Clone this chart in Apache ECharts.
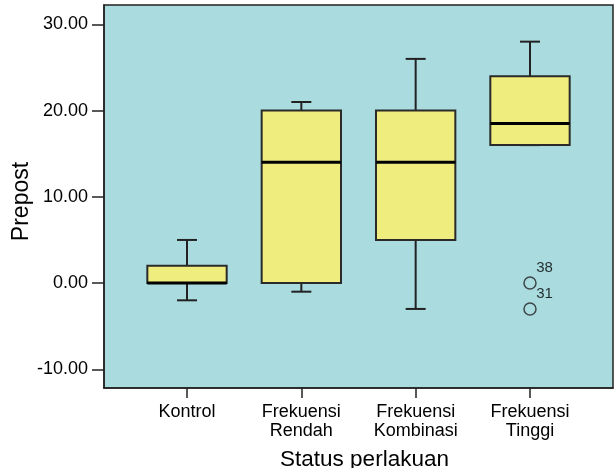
<!DOCTYPE html>
<html>
<head>
<meta charset="utf-8">
<script src="https://cdn.jsdelivr.net/npm/echarts@6/dist/echarts.min.js"></script>
<style>
html,body{margin:0;padding:0;background:#fff;}
#chart{width:614px;height:468px;}
</style>
</head>
<body>
<div id="chart"></div>
<script>
// Data
const categories = ['Kontrol', 'Frekuensi\nRendah', 'Frekuensi\nKombinasi', 'Frekuensi\nTinggi'];
// [lowerWhisker, Q1, median, Q3, upperWhisker]
const boxKontrol   = [-2, 0, 0, 2, 5];
const boxRendah    = [-1, 0, 14, 20, 21];
const boxKombinasi = [-3, 5, 14, 20, 26];
const boxTinggi    = [16, 16, 18.5, 24, 28];
const outlierValues = [0, -3];
const outlierCategory = [3, 3];
const outlierLabels = ['38', '31'];
const yTicks = [-10, 0, 10, 20, 30];
const xTicks = [0, 1, 2, 3];

const boxes = [boxKontrol, boxRendah, boxKombinasi, boxTinggi];
const boxData = boxes.map((b, i) => [i].concat(b));
const outlierData = outlierValues.map((v, i) => ({value: [outlierCategory[i], v], name: outlierLabels[i]}));

const HALF_BOX = 0.347;
const HALF_CAP = 0.0875;
const lineColor = '#222';

function renderBox(params, api) {
  const x = api.value(0);
  const lo = api.value(1), q1 = api.value(2), med = api.value(3), q3 = api.value(4), hi = api.value(5);
  const pLT = api.coord([x - HALF_BOX, q3]);
  const pRB = api.coord([x + HALF_BOX, q1]);
  const pMedL = api.coord([x - HALF_BOX, med]);
  const pMedR = api.coord([x + HALF_BOX, med]);
  const pHi = api.coord([x, hi]);
  const pQ3 = api.coord([x, q3]);
  const pLo = api.coord([x, lo]);
  const pQ1 = api.coord([x, q1]);
  const capHiL = api.coord([x - HALF_CAP, hi]);
  const capHiR = api.coord([x + HALF_CAP, hi]);
  const capLoL = api.coord([x - HALF_CAP, lo]);
  const capLoR = api.coord([x + HALF_CAP, lo]);
  const ws = {stroke: lineColor, lineWidth: 2};
  return {
    type: 'group',
    children: [
      {type: 'line', shape: {x1: pHi[0], y1: pHi[1], x2: pQ3[0], y2: pQ3[1]}, style: ws},
      {type: 'line', shape: {x1: pLo[0], y1: pLo[1], x2: pQ1[0], y2: pQ1[1]}, style: ws},
      {type: 'line', shape: {x1: capHiL[0], y1: capHiL[1], x2: capHiR[0], y2: capHiR[1]}, style: ws},
      {type: 'line', shape: {x1: capLoL[0], y1: capLoL[1], x2: capLoR[0], y2: capLoR[1]}, style: ws},
      {type: 'rect', shape: {x: pLT[0], y: pLT[1], width: pRB[0] - pLT[0], height: pRB[1] - pLT[1]},
        style: {fill: '#efed7e', stroke: '#2a2a2a', lineWidth: 2}},
      {type: 'line', shape: {x1: pMedL[0], y1: pMedL[1], x2: pMedR[0], y2: pMedR[1]},
        style: {stroke: '#000', lineWidth: 3}}
    ]
  };
}

const chart = echarts.init(document.getElementById('chart'), null, {renderer: 'canvas'});
chart.setOption({
  animation: false,
  backgroundColor: '#ffffff',
  textStyle: {fontFamily: 'Liberation Sans, Arial, sans-serif'},
  grid: {
    left: 104, right: 1, top: 5, bottom: 80,
    containLabel: false,
    outerBoundsMode: 'none',
    show: true, backgroundColor: '#aadcdf', borderColor: '#222', borderWidth: 1.5
  },
  xAxis: {
    type: 'value',
    min: -0.726, max: 3.726,
    name: 'Status perlakuan',
    nameLocation: 'middle',
    nameGap: 60,
    nameMoveOverlap: false,
    nameTextStyle: {fontSize: 22.5, color: '#000', padding: [0, 0, 0, 12], fontFamily: 'Liberation Sans, Arial, sans-serif'},
    axisLine: {show: true, onZero: false, lineStyle: {color: '#222', width: 1.5}},
    axisTick: {show: true, customValues: xTicks, length: 10, lineStyle: {color: '#222', width: 1.5}},
    axisLabel: {
      customValues: xTicks, margin: 15, fontSize: 18, lineHeight: 19, color: '#000',
      fontFamily: 'Liberation Sans, Arial, sans-serif',
      formatter: v => categories[Math.round(v)] || ''
    },
    splitLine: {show: false}
  },
  yAxis: {
    type: 'value',
    min: -12.17, max: 32.25,
    name: 'Prepost',
    nameLocation: 'middle',
    nameGap: 71,
    nameMoveOverlap: false,
    nameTextStyle: {fontSize: 23, color: '#000', padding: [0, 10, 0, 0], fontFamily: 'Liberation Sans, Arial, sans-serif'},
    axisLine: {show: true, onZero: false, lineStyle: {color: '#222', width: 1.5}},
    axisTick: {show: true, customValues: yTicks, length: 12, lineStyle: {color: '#222', width: 1.5}},
    axisLabel: {
      customValues: yTicks, margin: 16, fontSize: 18, color: '#000',
      fontFamily: 'Liberation Sans, Arial, sans-serif',
      formatter: v => v.toFixed(2)
    },
    splitLine: {show: false}
  },
  series: [
    {
      type: 'custom',
      renderItem: renderBox,
      data: boxData,
      encode: {x: 0, y: [1, 2, 3, 4, 5]},
      silent: true
    },
    {
      type: 'scatter',
      data: outlierData,
      symbol: 'circle',
      symbolSize: 12,
      itemStyle: {color: 'rgba(0,0,0,0)', borderColor: '#222', borderWidth: 1.5},
      label: {
        show: true,
        formatter: p => p.name,
        position: [13, -16],
        align: 'left',
        verticalAlign: 'top',
        fontSize: 15,
        color: '#000',
        fontFamily: 'Liberation Sans, Arial, sans-serif'
      },
      silent: true
    }
  ]
});
</script>
</body>
</html>
